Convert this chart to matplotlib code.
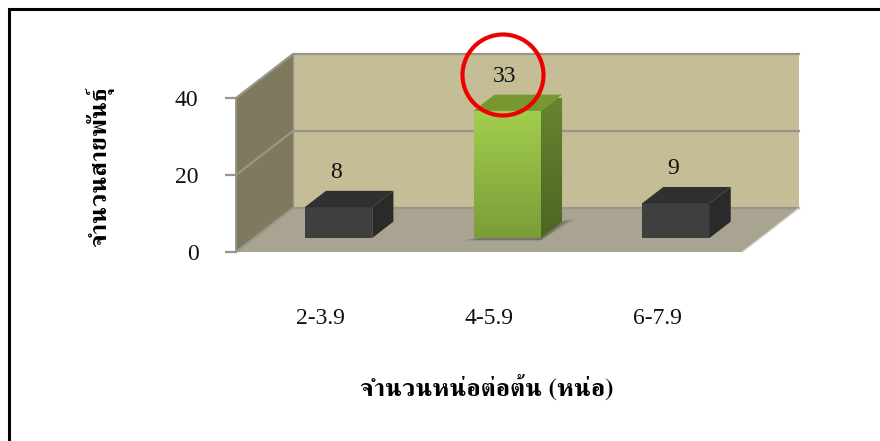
import matplotlib
matplotlib.use('Agg')
import matplotlib.pyplot as plt
import numpy as np
from matplotlib.colors import LinearSegmentedColormap
from matplotlib.lines import Line2D
from matplotlib.patches import Ellipse, Polygon

categories = ['2-3.9', '4-5.9', '6-7.9']
counts = [8, 33, 9]
y_ticks = [0, 20, 40]
x_title = 'จำนวนหน่อต่อต้น (หน่อ)'
y_title = 'จำนวนสายพันธุ์'

W, H = 880, 441
SERIF = ['Liberation Serif', 'FreeSerif']
THAI = ['FreeSerif', 'Liberation Serif']

# oblique depth of the 3-D box, in data units
DEPTH_X = 0.338
DEPTH_Y = 11.43
BAR_WIDTH = 0.40
BAR_NEAR = 0.32
BAR_FAR = 0.69


def proj(x, y, d=0.0):
    return (x + d * DEPTH_X, y + d * DEPTH_Y)


def face(ax, pts, color, z, **kw):
    p = Polygon(pts, closed=True, facecolor=color, edgecolor=kw.pop('edgecolor', 'none'),
                clip_on=False, zorder=z, **kw)
    ax.add_patch(p)
    return p


def gradient_face(ax, pts, top, bottom, z):
    # vertical fade clipped to the face outline
    cmap = LinearSegmentedColormap.from_list('fade', [bottom, top])
    pts = np.array(pts)
    clip = Polygon(pts, closed=True, transform=ax.transData, facecolor='none', edgecolor='none')
    ax.add_patch(clip)
    grad = np.linspace(1, 0, 64).reshape(-1, 1)
    im = ax.imshow(grad, cmap=cmap, aspect='auto', zorder=z, interpolation='bilinear',
                   extent=(pts[:, 0].min(), pts[:, 0].max(), pts[:, 1].min(), pts[:, 1].max()))
    im.set_clip_path(clip)


fig = plt.figure(figsize=(W / 100, H / 100), dpi=100, facecolor='white')
ax = fig.add_axes([236 / W, (H - 252) / H, 506 / W, 154 / H])
ax.set_facecolor('none')

ymax = y_ticks[-1]
xmax = len(categories)

# walls and floor
face(ax, [proj(0, 0), proj(0, 0, 1), proj(0, ymax, 1), proj(0, ymax)], '#7f7a5e', 1)
face(ax, [proj(0, 0, 1), proj(xmax, 0, 1), proj(xmax, ymax, 1), proj(0, ymax, 1)], '#c5bd96', 1)
face(ax, [proj(0, 0), proj(xmax, 0), proj(xmax, 0, 1), proj(0, 0, 1)], '#a8a491', 1)

# gridlines and box edges
edge = '#98968c'
for v in y_ticks:
    px, py = zip(proj(0, v), proj(0, v, 1), proj(xmax, v, 1))
    ax.plot(px, py, color=edge, lw=1.6, clip_on=False, zorder=2, solid_joinstyle='miter')
px, py = zip(proj(0, 0, 1), proj(0, ymax, 1))
ax.plot(px, py, color=edge, lw=1.0, clip_on=False, zorder=2)
px, py = zip(proj(xmax, 0), proj(xmax, 0, 1))
ax.plot(px, py, color='#d0cec4', lw=1.0, clip_on=False, zorder=2)

for i, (label, v) in enumerate(zip(categories, counts)):
    x0 = i + 0.5 - BAR_WIDTH / 2
    x1 = i + 0.5 + BAR_WIDTH / 2
    front = [proj(x0, 0, BAR_NEAR), proj(x1, 0, BAR_NEAR), proj(x1, v, BAR_NEAR), proj(x0, v, BAR_NEAR)]
    side = [proj(x1, 0, BAR_NEAR), proj(x1, 0, BAR_FAR), proj(x1, v, BAR_FAR), proj(x1, v, BAR_NEAR)]
    top = [proj(x0, v, BAR_NEAR), proj(x1, v, BAR_NEAR), proj(x1, v, BAR_FAR), proj(x0, v, BAR_FAR)]
    if v == max(counts):
        # soft contact shadow under the tallest bar
        for grow, alpha in [(0.06, 0.15), (0.04, 0.2), (0.02, 0.3)]:
            face(ax, [proj(x0 - grow, -0.6, BAR_NEAR), proj(x1, -0.6, BAR_NEAR),
                      proj(x1 + grow, 0, BAR_FAR + 0.06), proj(x1, 0, BAR_FAR)],
                 '#4a4838', 3, alpha=alpha)
        gradient_face(ax, front, '#a2ce4e', '#7b9d38', 5)
        gradient_face(ax, side, '#678632', '#4e6522', 5)
        face(ax, top, '#76982f', 5)
    else:
        face(ax, front, '#3f3f3f', 5)
        face(ax, side, '#2a2a2a', 5)
        face(ax, top, '#303030', 5)
    ax.annotate(str(v), xy=proj(i + 0.5, v, BAR_NEAR), xytext=(-2.5 * 0.72, 34.5 * 0.72),
                textcoords='offset points', ha='center', va='center', fontsize=17,
                family=SERIF, color='#111111', zorder=7)

ax.set_xlim(0, xmax)
ax.set_ylim(0, ymax)
ax.set_xticks(np.arange(xmax) + 0.5)
ax.set_xticklabels(categories, family=SERIF, fontsize=17, color='#111111')
ax.set_yticks(y_ticks)
ax.set_yticklabels([str(t) for t in y_ticks], family=SERIF, fontsize=17, color='#111111')
ax.tick_params(axis='x', length=0, pad=40)
ax.tick_params(axis='y', length=8, width=1.6, color=edge, pad=19)
for name, spine in ax.spines.items():
    spine.set_visible(name == 'left')
    spine.set_color(edge)
    spine.set_linewidth(1.4)

fig.text(487 / W, 1 - 388 / H, x_title, family=THAI, weight='bold', fontsize=18.3,
         ha='center', va='center', color='black')
fig.text(100 / W, 1 - 167 / H, y_title, family=THAI, weight='bold', fontsize=18.3,
         rotation=90, ha='center', va='center', color='black')

# red ring around the peak value
fig.add_artist(Ellipse((503 / W, 1 - 75 / H), 81 / W, 81 / H, transform=fig.transFigure,
                       facecolor='none', edgecolor='#ee0000', linewidth=3.0, zorder=10))

# page frame
fig.add_artist(Line2D([9 / W, 9 / W, 1], [0, 1 - 9 / H, 1 - 9 / H], transform=fig.transFigure,
                      color='black', lw=2.2, solid_joinstyle='miter'))

fig.savefig('out.png', dpi=100)
